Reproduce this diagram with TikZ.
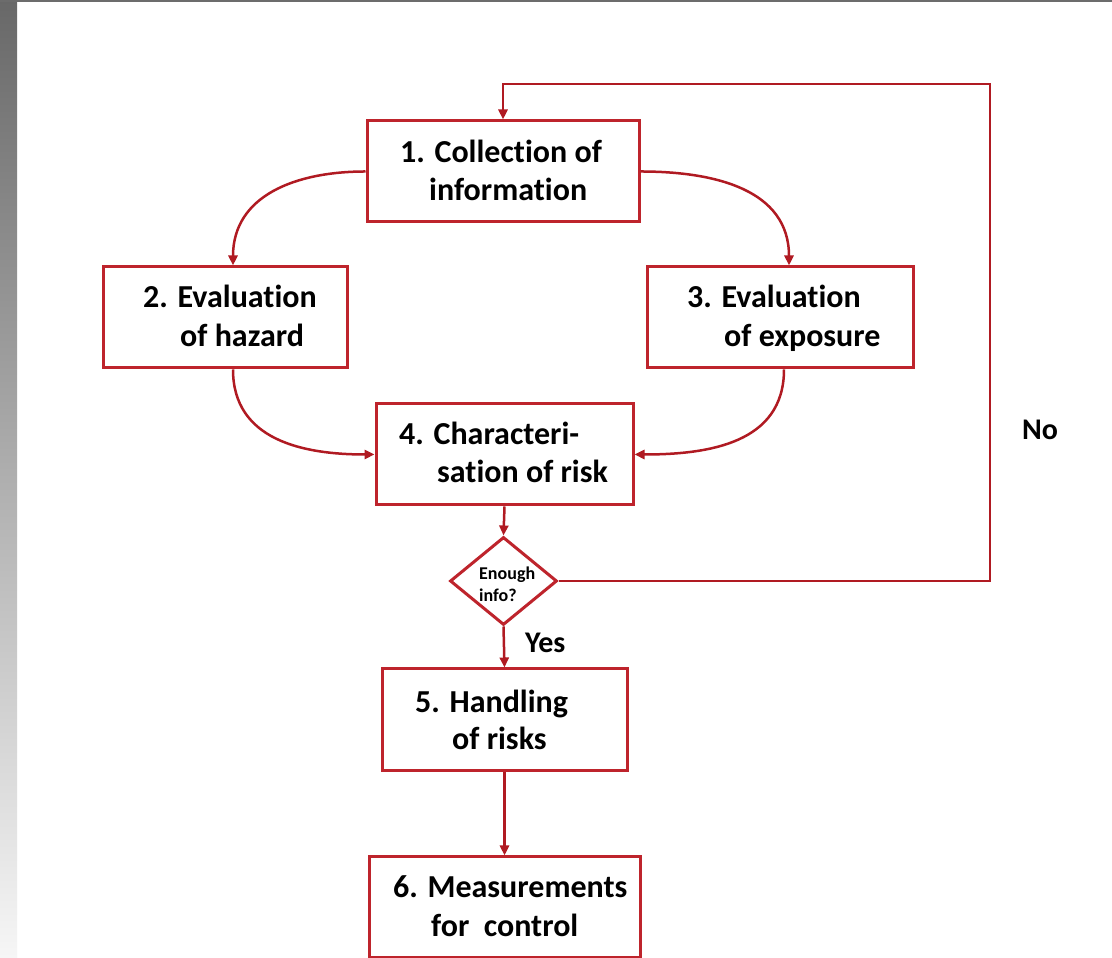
\documentclass[tikz,border=0pt]{standalone}
\usepackage{fontspec}
\setmainfont{Carlito}[Ligatures=NoCommon]
\usetikzlibrary{arrows.meta,shapes.geometric,calc}
\definecolor{boxred}{RGB}{190,36,44}
\definecolor{linered}{RGB}{176,26,34}
\definecolor{bargray}{RGB}{108,108,108}
\definecolor{striptop}{RGB}{104,104,104}
\definecolor{stripbot}{RGB}{246,246,246}
\begin{document}
\begin{tikzpicture}[x=1pt,y=1pt,
  stepbox/.style={draw=boxred,line width=3pt,rectangle,inner sep=0pt,minimum height=101pt},
  decbox/.style={draw=boxred,line width=3pt,diamond,inner sep=0pt,minimum width=107pt,minimum height=88pt},
  lbl/.style={anchor=base west,inner sep=0pt,font=\fontsize{32}{38}\selectfont\bfseries},
  smalllbl/.style={anchor=base west,inner sep=0pt,font=\fontsize{18}{22}\selectfont\bfseries},
  anslbl/.style={anchor=base west,inner sep=0pt,font=\fontsize{30}{36}\selectfont\bfseries},
  conn/.style={draw=linered,line width=2.5pt,-{Triangle[length=10pt,width=9pt]}}
]
\useasboundingbox (0,0) rectangle (1112,958);
\fill[white] (0,0) rectangle (1112,958);
% frame decorations
\shade[top color=striptop,bottom color=stripbot] (0,0) rectangle (17,958);
\fill[bargray] (0,955.5) rectangle (1112,958);

% boxes
\node[stepbox,minimum width=272pt] (b1) at (503,786.5) {};
\node[stepbox,minimum width=244pt] (b2) at (225,640.5) {};
\node[stepbox,minimum width=266pt] (b3) at (780,640.5) {};
\node[stepbox,minimum width=257pt] (b4) at (504.5,503.5) {};
\node[decbox] (d) at (503.5,377) {};
\node[stepbox,minimum width=245pt,minimum height=102pt] (b5) at (504.5,238) {};
\node[stepbox,minimum width=271pt] (b6) at (504.5,50.5) {};

% texts
\node[lbl] (t1a) at (400,795) {1. Collection of};
\node[lbl] (t1b) at (429,757) {information};
\node[lbl] (t2a) at (143,650) {2. Evaluation};
\node[lbl] (t2b) at (180,611) {of hazard};
\node[lbl] (t3a) at (687,650) {3. Evaluation};
\node[lbl] (t3b) at (724,611) {of exposure};
\node[lbl] (t4a) at (399,513) {4. Characteri-};
\node[lbl] (t4b) at (437,475) {sation of risk};
\node[smalllbl] (tda) at (479,378) {Enough};
\node[smalllbl] (tdb) at (479,356) {info?};
\node[lbl] (t5a) at (415,245) {5. Handling};
\node[lbl] (t5b) at (452,208) {of risks};
\node[lbl] (t6a) at (393,60) {6. Measurements};
\node[lbl] (t6b) at (431,21) {for\ \ control};
\node[anslbl] (yes) at (525,305) {Yes};
\node[anslbl] (no) at (1022,518) {No};

% feedback loop
\coordinate (fr) at (990,377);
\coordinate (ft) at (990,874);
\coordinate (fl) at (b1.north |- ft);
\draw[conn] (d.east) -- (fr) -- (ft) -- (fl) -- (b1.north);

% curved connectors
\draw[conn] (b1.west) to[out=180,in=90,looseness=1.1] ($(b2.north)+(8,0)$);
\draw[conn] (b1.east) to[out=0,in=90,looseness=1.1] ($(b3.north)+(9,0)$);
\draw[conn] ($(b2.south)+(8,0)$) to[out=-90,in=180,looseness=1.1] (b4.west);
\draw[conn] ($(b3.south)+(4,0)$) to[out=-90,in=0,looseness=1.1] (b4.east);

% straight connectors
\draw[conn] (b4.south) -- (d.north);
\draw[conn] (d.south) -- (b5.north);
\draw[conn] (b5.south) -- (b6.north);
\end{tikzpicture}
\end{document}
